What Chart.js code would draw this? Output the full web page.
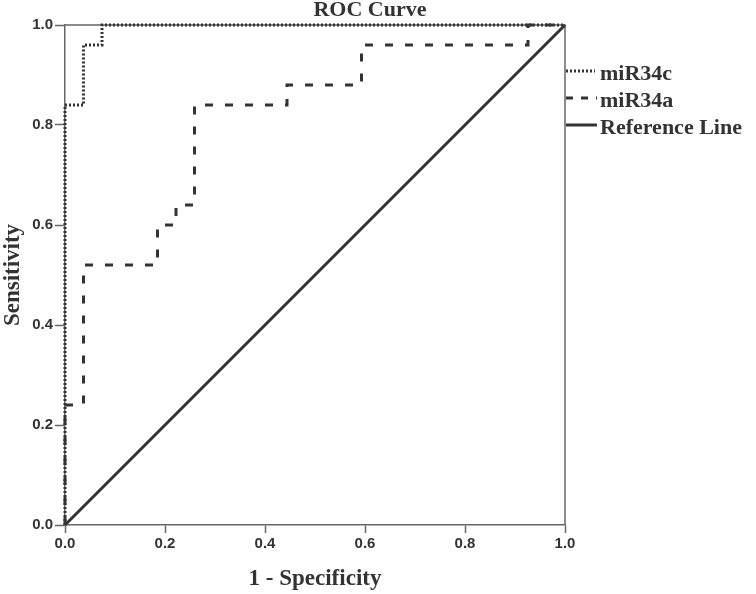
<!DOCTYPE html>
<html>
<head>
<meta charset="utf-8">
<script src="https://cdn.jsdelivr.net/npm/chart.js@4"></script>
<style>
  html, body { margin: 0; padding: 0; background: #fff; }
  #wrap { width: 756px; height: 594px; position: relative; }
</style>
</head>
<body>
<div id="wrap"><canvas id="roc" width="756" height="594"></canvas></div>
<script>
// ROC points (1 - specificity, sensitivity)
const fprC = [0, 0, 0.037, 0.074, 1];
const tprC = [0, 0.84, 0.96, 1, 1];

const fprA = [0, 0, 0.037, 0.185, 0.222, 0.259, 0.444, 0.593, 0.926, 1];
const tprA = [0, 0.24, 0.52, 0.60, 0.64, 0.84, 0.88, 0.96, 1, 1];

const refX = [0, 1];
const refY = [0, 1];

const seriesNames = ["miR34c", "miR34a", "Reference Line"];
const tickValues = [0, 0.2, 0.4, 0.6, 0.8, 1.0];

const lineColor = "#333333";
const frameColor = "#666666";
const serif = "'Liberation Serif', 'Times New Roman', serif";

function toPoints(xs, ys) {
  return xs.map((x, i) => ({ x: x, y: ys[i] }));
}

// frame on top/right plus title and legend
const extras = {
  id: "extras",
  beforeDatasetsDraw(chart) {
    const { ctx, chartArea: a } = chart;
    ctx.save();
    ctx.strokeStyle = frameColor;
    ctx.lineWidth = 1.5;
    ctx.beginPath();
    ctx.moveTo(a.left, a.top);
    ctx.lineTo(a.right, a.top);
    ctx.lineTo(a.right, a.bottom);
    ctx.stroke();
    ctx.restore();
  },
  afterDraw(chart) {
    const { ctx } = chart;
    ctx.save();
    ctx.fillStyle = lineColor;
    ctx.font = "bold 22px " + serif;
    ctx.textAlign = "center";
    ctx.textBaseline = "alphabetic";
    ctx.fillText("ROC Curve", 370, 16);

    // legend
    const rows = [71, 98, 125];
    const dashes = [[2, 2], [7, 8], []];
    ctx.textAlign = "left";
    rows.forEach((y, i) => {
      ctx.strokeStyle = lineColor;
      ctx.lineWidth = 3;
      ctx.setLineDash(dashes[i]);
      ctx.beginPath();
      ctx.moveTo(566, y);
      ctx.lineTo(i === 0 ? 595 : 597, y);
      ctx.stroke();
      ctx.setLineDash([]);
      ctx.fillText(seriesNames[i], 600, y + 9);
    });
    ctx.restore();
  }
};

const tickFont = { family: "'Liberation Sans', Arial, sans-serif", size: 15, weight: "bold" };

new Chart(document.getElementById("roc").getContext("2d"), {
  type: "scatter",
  data: {
    datasets: [
      {
        label: seriesNames[0],
        data: toPoints(fprC, tprC),
        showLine: true,
        stepped: "before",
        borderColor: lineColor,
        borderWidth: 3,
        borderDash: [2, 2],
        pointRadius: 0,
        clip: 5
      },
      {
        label: seriesNames[1],
        data: toPoints(fprA, tprA),
        showLine: true,
        stepped: "before",
        borderColor: lineColor,
        borderWidth: 3,
        borderDash: [8, 12],
        pointRadius: 0,
        clip: 5
      },
      {
        label: seriesNames[2],
        data: toPoints(refX, refY),
        showLine: true,
        borderColor: lineColor,
        borderWidth: 3,
        pointRadius: 0,
        clip: 5
      }
    ]
  },
  options: {
    responsive: false,
    animation: false,
    devicePixelRatio: 1,
    layout: { padding: { left: 0, top: 25, right: 191, bottom: 0 } },
    plugins: {
      legend: { display: false },
      title: { display: false },
      tooltip: { enabled: false }
    },
    scales: {
      x: {
        type: "linear",
        min: 0,
        max: 1,
        afterBuildTicks: s => { s.ticks = tickValues.map(v => ({ value: v })); },
        afterFit: s => { s.height = 69; },
        ticks: {
          color: lineColor,
          font: tickFont,
          padding: 2,
          maxRotation: 0,
          autoSkip: false,
          callback: v => Number(v).toFixed(1)
        },
        grid: {
          drawOnChartArea: false,
          drawTicks: true,
          tickLength: 8,
          tickColor: frameColor,
          tickWidth: 1.5
        },
        border: { display: true, color: frameColor, width: 1.5 },
        title: {
          display: true,
          text: "1 - Specificity",
          color: lineColor,
          font: { family: serif, size: 23, weight: "bold" },
          padding: { top: 0, bottom: 1 }
        }
      },
      y: {
        type: "linear",
        min: 0,
        max: 1,
        afterBuildTicks: s => { s.ticks = tickValues.map(v => ({ value: v })); },
        afterFit: s => { s.width = 65; },
        ticks: {
          color: lineColor,
          font: tickFont,
          padding: 2,
          autoSkip: false,
          callback: v => Number(v).toFixed(1)
        },
        grid: {
          drawOnChartArea: false,
          drawTicks: true,
          tickLength: 10,
          tickColor: frameColor,
          tickWidth: 1.5
        },
        border: { display: true, color: frameColor, width: 1.5 },
        title: {
          display: true,
          text: "Sensitivity",
          color: lineColor,
          font: { family: serif, size: 23, weight: "bold" },
          padding: { top: -1, bottom: 0 }
        }
      }
    }
  },
  plugins: [extras]
});
</script>
</body>
</html>
